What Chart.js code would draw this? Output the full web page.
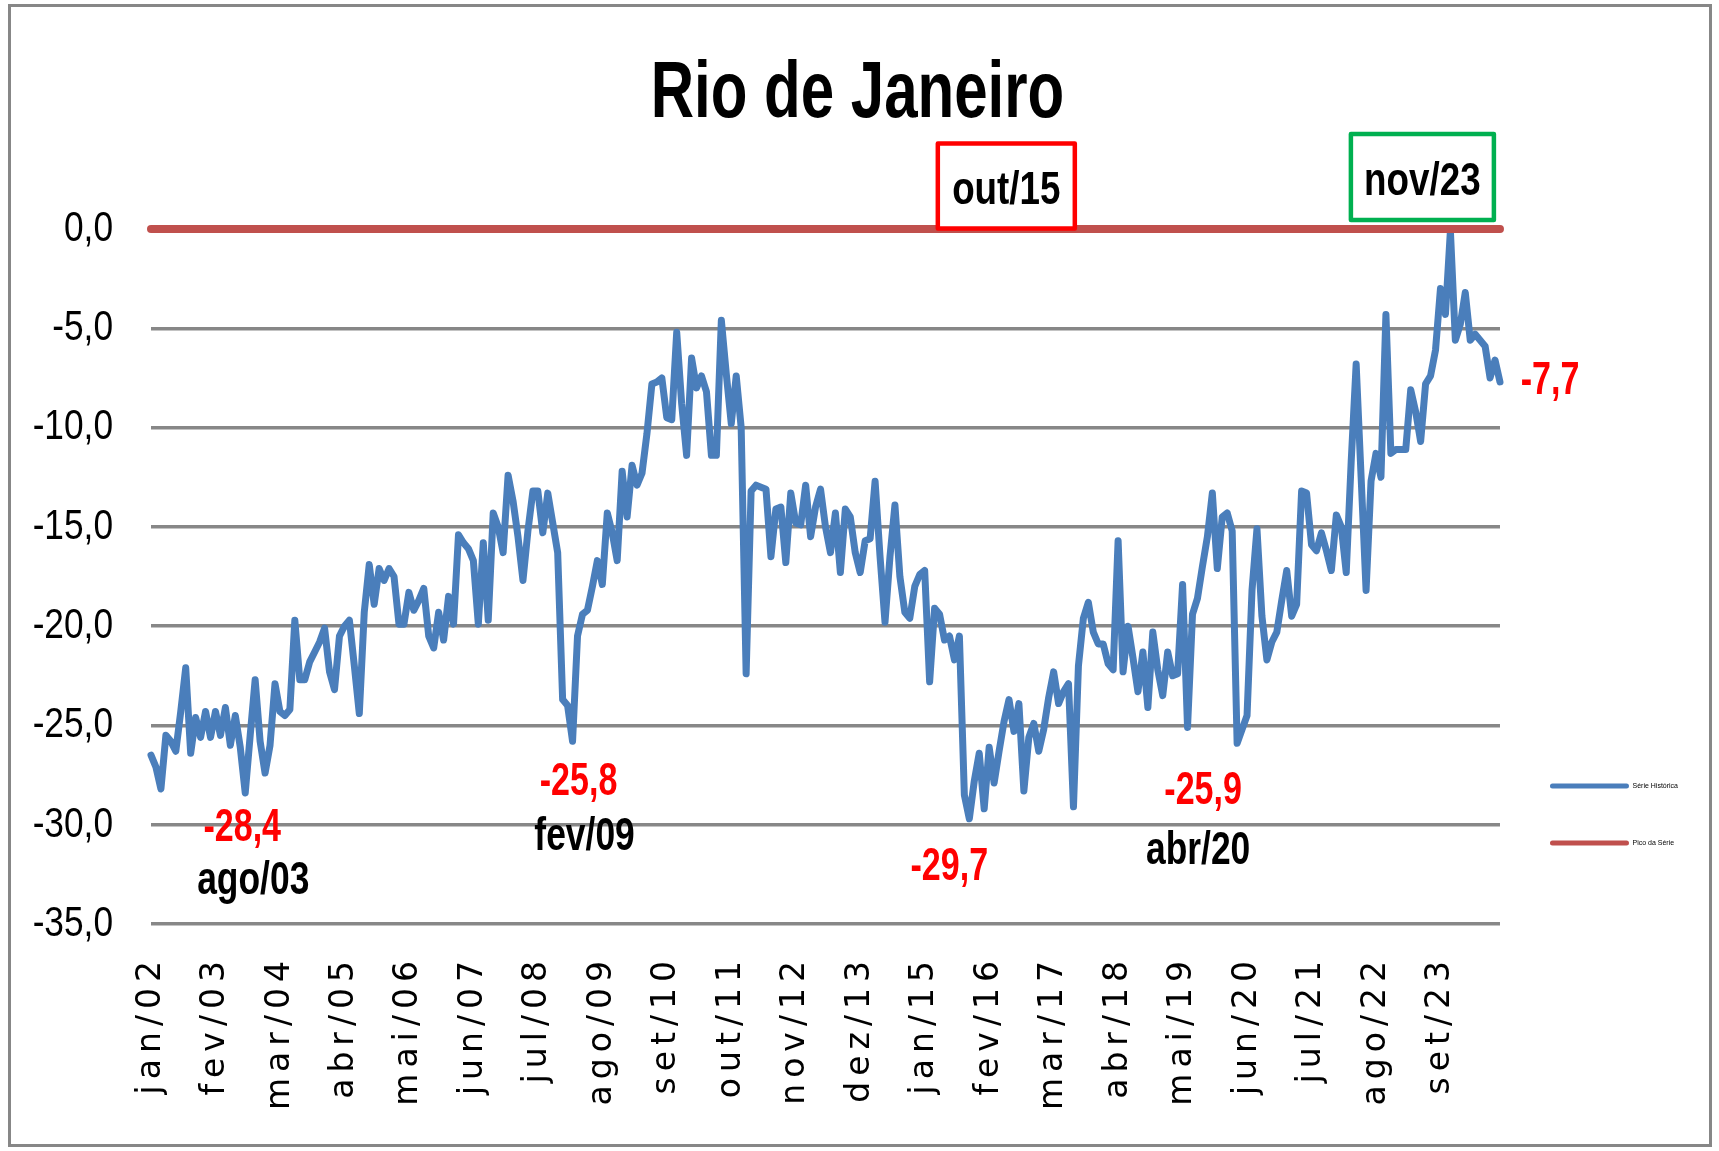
<!DOCTYPE html>
<html>
<head>
<meta charset="utf-8">
<script src="https://cdn.jsdelivr.net/npm/chart.js@4.4.1/dist/chart.umd.min.js"></script>
<style>
html,body{margin:0;padding:0;background:#fff;}
#wrap{width:1719px;height:1151px;position:relative;}
</style>
</head>
<body>
<div id="wrap"><canvas id="c"></canvas></div>
<script>
// ---------------- DATA ----------------
const monthAbbr = ['jan','fev','mar','abr','mai','jun','jul','ago','set','out','nov','dez'];
const firstYear = 2;          // 2002
const monthCount = 273;       // jan/02 .. set/24
const categories = [];
for (let i = 0; i < monthCount; i++) {
  categories.push(monthAbbr[i % 12] + '/' + String(firstYear + Math.floor(i / 12)).padStart(2, '0'));
}
const tickEvery = 13;
const tickLabels = ['jan/02','fev/03','mar/04','abr/05','mai/06','jun/07','jul/08','ago/09','set/10','out/11',
  'nov/12','dez/13','jan/15','fev/16','mar/17','abr/18','mai/19','jun/20','jul/21','ago/22','set/23'];

const historicalSeries = [
  -26.5,-27.1,-28.2,-25.5,-25.8,-26.3,-24.3,-22.1,-26.4,-24.6,-25.6,-24.3, // 2002
  -25.6,-24.3,-25.5,-24.1,-26.0,-24.5,-26.1,-28.4,-25.5,-22.7,-25.8,-27.4, // 2003
  -26.0,-22.9,-24.3,-24.5,-24.2,-19.7,-22.7,-22.7,-21.8,-21.3,-20.8,-20.1, // 2004
  -22.3,-23.2,-20.5,-20.0,-19.7,-22.0,-24.4,-19.3,-16.9,-18.9,-17.1,-17.7, // 2005
  -17.1,-17.5,-19.9,-19.9,-18.3,-19.2,-18.7,-18.1,-20.5,-21.1,-19.3,-20.7, // 2006
  -18.5,-19.9,-15.4,-15.8,-16.1,-16.7,-19.9,-15.8,-19.7,-14.3,-15.0,-16.3, // 2007
  -12.4,-13.7,-15.5,-17.7,-15.2,-13.2,-13.2,-15.3,-13.3,-14.8,-16.3,-23.7, // 2008
  -24.0,-25.8,-20.5,-19.4,-19.2,-18.0,-16.7,-17.9,-14.3,-15.3,-16.7,-12.2, // 2009
  -14.5,-11.9,-12.9,-12.3,-10.3,-7.8,-7.7,-7.5,-9.5,-9.6,-5.2,-8.8,         // 2010
  -11.4,-6.5,-8.0,-7.4,-8.2,-11.4,-11.4,-4.6,-7.3,-9.8,-7.4,-10.0,          // 2011
  -22.4,-13.2,-12.9,-13.0,-13.1,-16.5,-14.1,-14.0,-16.8,-13.3,-14.8,-14.9, // 2012
  -12.9,-15.5,-14.0,-13.1,-15.0,-16.3,-14.3,-17.3,-14.1,-14.5,-16.3,-17.3, // 2013
  -15.7,-15.6,-12.7,-16.5,-19.8,-16.5,-13.9,-17.5,-19.3,-19.6,-18.0,-17.4, // 2014
  -17.2,-22.8,-19.1,-19.4,-20.7,-20.5,-21.7,-20.5,-28.5,-29.7,-27.8,-26.4, // 2015
  -29.2,-26.1,-27.9,-26.3,-24.8,-23.7,-25.3,-23.9,-28.3,-25.6,-24.9,-26.3, // 2016
  -25.2,-23.6,-22.3,-23.9,-23.3,-22.9,-29.1,-22.0,-19.6,-18.8,-20.3,-20.9, // 2017
  -20.9,-21.9,-22.2,-15.7,-22.3,-20.0,-21.6,-23.3,-21.3,-24.1,-20.3,-22.2, // 2018
  -23.5,-21.3,-22.5,-22.4,-17.9,-25.1,-19.4,-18.6,-17.0,-15.5,-13.3,-17.1, // 2019
  -14.5,-14.3,-15.2,-25.9,-25.2,-24.5,-18.2,-15.1,-19.5,-21.7,-20.8,-20.3, // 2020
  -18.7,-17.2,-19.5,-18.9,-13.2,-13.3,-15.9,-16.2,-15.3,-16.2,-17.2,-14.4, // 2021
  -15.0,-17.3,-11.7,-6.8,-12.5,-18.2,-12.7,-11.3,-12.5,-4.3,-11.3,-11.1,   // 2022
  -11.1,-11.1,-8.1,-9.2,-10.7,-7.8,-7.4,-6.1,-3.0,-4.3,-0.1,-5.6,          // 2023
  -4.8,-3.2,-5.6,-5.3,-5.6,-5.9,-7.5,-6.6,-7.7                              // 2024
];
const peakValue = 0.0;
const peakSeries = categories.map(() => peakValue);

const chartTitle = 'Rio de Janeiro';
const seriesNames = ['Série Histórica', 'Pico da Série'];
const yMin = -35, yMax = 0, yStep = 5;

// highlighted points (indices into the series)
const minimaIdx = [19, 85, 165, 219];
const boxedIdx = [165, 262];
const lastIdx = monthCount - 1;

// ---------------- STYLE / LAYOUT ----------------
const SANS = '"Liberation Sans", Arial, sans-serif';
const labelLayout = {
  19:  {vdx: -3,  vdy: 35, ddx: 8,   ddy: 88,  date: true},
  85:  {vdx: 6,   vdy: 41, ddx: 12,  ddy: 96,  date: true},
  165: {vdx: -20, vdy: 49, date: false},
  219: {vdx: -34, vdy: 48, ddx: -39, ddy: 108, date: true}
};
const boxLayout = {
  165: {dx: 37,  cyFromTop: -43, w: 137, h: 85, color: '#FF0000'},
  262: {dx: -28, cyFromTop: -52, w: 143, h: 86, color: '#00B050'}
};
const lastLayout = {dx: 50, dy: -1};

const fmt = v => v.toFixed(1).replace('.', ',');

function narrowText(ctx, text, cx, cy, sx) {
  ctx.save();
  ctx.translate(cx, cy);
  ctx.scale(sx, 1);
  ctx.fillText(text, 0, 0);
  ctx.restore();
}

class SpacedCategoryScale extends Chart.CategoryScale {
  drawLabels(area) {
    const ctx = this.ctx;
    ctx.save();
    ctx.letterSpacing = '6px';
    super.drawLabels(area);
    ctx.restore();
  }
}
SpacedCategoryScale.id = 'spacedCategory';
SpacedCategoryScale.defaults = Chart.CategoryScale.defaults;

class NarrowLinearScale extends Chart.LinearScale {
  drawLabels(area) {
    const ctx = this.ctx;
    const ax = this.right - this.options.ticks.padding;
    ctx.save();
    ctx.translate(ax, 0);
    ctx.scale(0.82, 1);
    ctx.translate(-ax, 0);
    super.drawLabels(area);
    ctx.restore();
  }
}
NarrowLinearScale.id = 'narrowLinear';
NarrowLinearScale.defaults = Chart.LinearScale.defaults;
Chart.register(SpacedCategoryScale, NarrowLinearScale);

const framePlugin = {
  id: 'frame',
  beforeDraw(chart) {
    const ctx = chart.ctx;
    ctx.save();
    ctx.fillStyle = '#ffffff';
    ctx.fillRect(0, 0, chart.width, chart.height);
    ctx.strokeStyle = '#878787';
    ctx.lineWidth = 3;
    ctx.strokeRect(9.5, 5.5, 1701, 1140);
    ctx.restore();
  }
};

const annotatePlugin = {
  id: 'annotate',
  afterDraw(chart) {
    const {ctx, chartArea} = chart;
    const x = chart.scales.x, y = chart.scales.y;
    ctx.save();
    ctx.textAlign = 'center';
    ctx.textBaseline = 'middle';

    // title
    ctx.fillStyle = '#000000';
    ctx.font = 'bold 80px ' + SANS;
    narrowText(ctx, chartTitle, chart.width / 2 - 2, 95, 0.75);

    ctx.font = 'bold 46px ' + SANS;
    for (const i of minimaIdx) {
      const L = labelLayout[i];
      const px = x.getPixelForValue(i), py = y.getPixelForValue(historicalSeries[i]);
      ctx.fillStyle = '#FF0000';
      narrowText(ctx, fmt(historicalSeries[i]), px + L.vdx, py + L.vdy, 0.74);
      if (L.date) {
        ctx.fillStyle = '#000000';
        narrowText(ctx, categories[i], px + L.ddx, py + L.ddy, 0.77);
      }
    }
    for (const i of boxedIdx) {
      const B = boxLayout[i];
      const cx = x.getPixelForValue(i) + B.dx;
      const cy = chartArea.top + B.cyFromTop;
      ctx.lineWidth = 4.5;
      ctx.lineJoin = 'round';
      ctx.strokeStyle = B.color;
      ctx.fillStyle = '#ffffff';
      ctx.beginPath();
      ctx.rect(cx - B.w / 2, cy - B.h / 2, B.w, B.h);
      ctx.fill();
      ctx.stroke();
      ctx.fillStyle = '#000000';
      narrowText(ctx, categories[i], cx, cy + 5, 0.8);
    }
    ctx.fillStyle = '#FF0000';
    narrowText(ctx, fmt(historicalSeries[lastIdx]),
      x.getPixelForValue(lastIdx) + lastLayout.dx,
      y.getPixelForValue(historicalSeries[lastIdx]) + lastLayout.dy, 0.74);
    ctx.restore();
  }
};

new Chart(document.getElementById('c'), {
  type: 'line',
  data: {
    labels: categories,
    datasets: [
      {
        label: seriesNames[0],
        data: historicalSeries,
        borderColor: '#4A7EBB',
        backgroundColor: '#4A7EBB',
        borderWidth: 7,
        pointRadius: 0,
        tension: 0,
        borderJoinStyle: 'round',
        borderCapStyle: 'round',
        clip: false,
        order: 1
      },
      {
        label: seriesNames[1],
        data: peakSeries,
        borderColor: '#C0504D',
        backgroundColor: '#C0504D',
        borderWidth: 8,
        pointRadius: 0,
        tension: 0,
        borderCapStyle: 'round',
        clip: false,
        order: 0
      }
    ]
  },
  options: {
    responsive: true,
    maintainAspectRatio: false,
    animation: false,
    devicePixelRatio: 1,
    layout: {padding: {left: 10, right: 31, top: 229, bottom: 5}},
    plugins: {
      tooltip: {enabled: false},
      title: {display: false},
      legend: {
        display: true,
        position: 'right',
        align: 'start',
        title: {display: true, text: '', padding: {top: 489, bottom: 0}, font: {size: 12}},
        labels: {
          boxWidth: 79,
          boxHeight: 5,
          padding: 50,
          color: '#000000',
          font: {family: SANS, size: 7},
          generateLabels: (chart) => chart.data.datasets.map((ds, i) => ({
            text: ds.label,
            fillStyle: ds.borderColor,
            strokeStyle: ds.borderColor,
            lineWidth: 0,
            borderRadius: 2.5,
            hidden: false,
            datasetIndex: i,
            fontColor: '#000000'
          }))
        }
      }
    },
    scales: {
      x: {
        type: 'spacedCategory',
        offset: false,
        grid: {display: false, drawTicks: false},
        border: {display: false},
        ticks: {
          autoSkip: false,
          minRotation: 90,
          maxRotation: 90,
          padding: 31,
          color: '#000000',
          font: {family: '"DejaVu Sans", Verdana, sans-serif', size: 33},
          callback: function (value, index) {
            return index % tickEvery === 0 ? categories[index] : null;
          }
        },
        afterFit: (scale) => { scale.height = 222; }
      },
      y: {
        type: 'narrowLinear',
        min: yMin,
        max: yMax,
        grid: {color: '#878787', lineWidth: 3.5, drawTicks: false},
        border: {display: false},
        ticks: {
          stepSize: yStep,
          padding: 38,
          color: '#000000',
          font: {family: SANS, size: 43},
          callback: (v) => fmt(v)
        },
        afterFit: (scale) => { scale.width = 141; }
      }
    }
  },
  plugins: [framePlugin, annotatePlugin]
});
</script>
</body>
</html>
